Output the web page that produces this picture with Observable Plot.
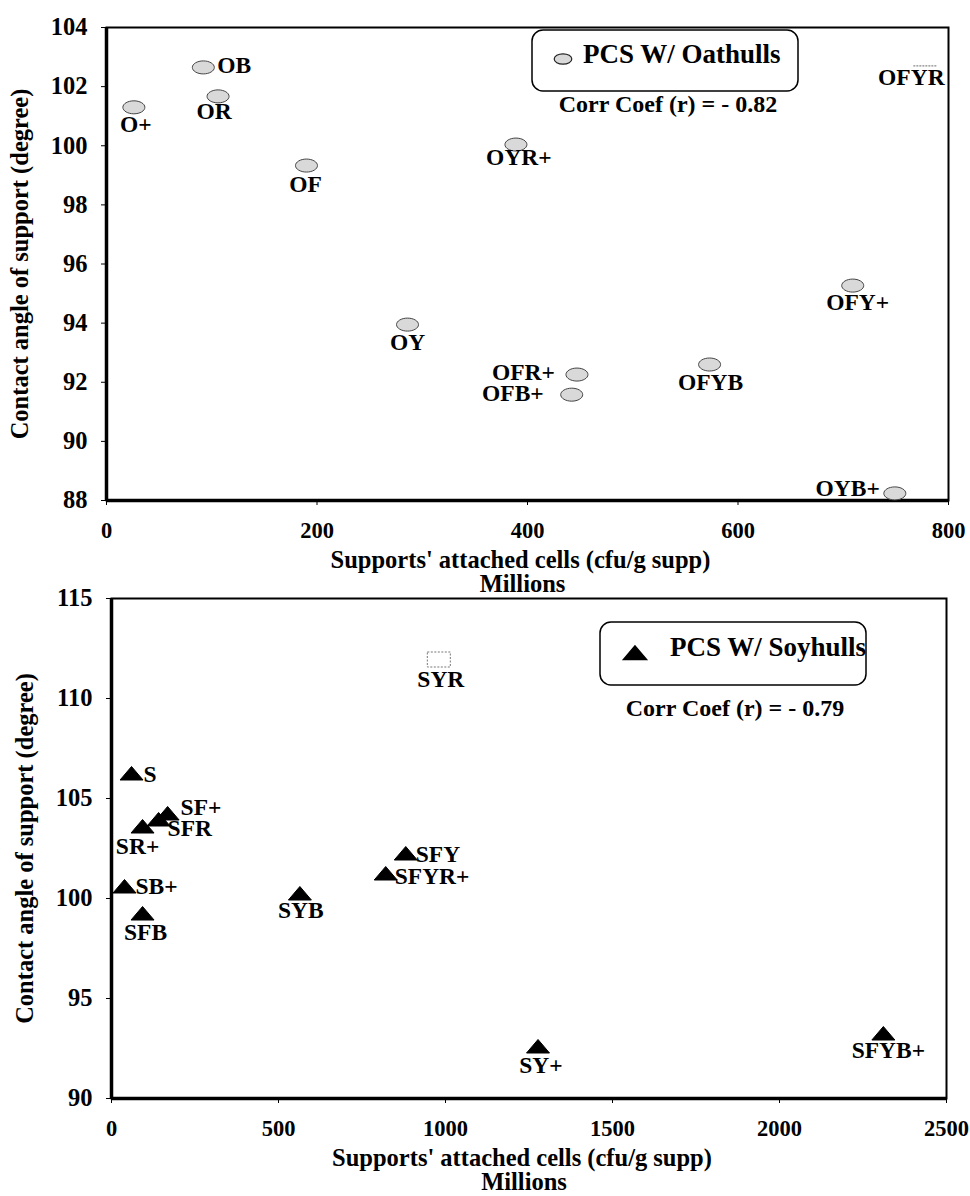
<!DOCTYPE html>
<html><head><meta charset="utf-8">
<script src="https://cdn.jsdelivr.net/npm/d3@7"></script>
<script src="https://cdn.jsdelivr.net/npm/@observablehq/plot@0.6"></script>
<style>
body{margin:0;background:#fff;}
#c svg{display:block;}
</style></head><body><div id="c"></div>
<script>
// ---- data: PCS with oathulls ----
const oatNames = ["O+","OB","OR","OF","OYR+","OFYR","OY","OFR+","OFB+","OFYB","OFY+","OYB+"];
const oatCells = [26,92,106,190,389,778,286,447,442,573,709,749];
const oatAngle = [101.3,102.65,101.67,99.33,100.04,102.7,93.95,92.26,91.58,92.6,95.27,88.24];
const oatXTicks = [0,200,400,600,800];
const oatYTicks = [88,90,92,94,96,98,100,102,104];
const oatCorr = "Corr Coef (r) = - 0.82";
const oatLegend = "PCS W/ Oathulls";

// ---- data: PCS with soyhulls ----
const soyNames = ["S","SR+","SFR","SF+","SFY","SFYR+","SB+","SFB","SYB","SY+","SFYB+","SYR"];
const soyCells = [60,93,141,168,881,821,39,93,564,1277,2311,980];
const soyAngle = [106.25,103.6,103.95,104.25,102.25,101.25,100.6,99.25,100.25,92.6,93.25,111.95];
const soyXTicks = [0,500,1000,1500,2000,2500];
const soyYTicks = [90,95,100,105,110,115];
const soyCorr = "Corr Coef (r) = - 0.79";
const soyLegend = "PCS W/ Soyhulls";

const xTitle = "Supports' attached cells (cfu/g supp)";
const xUnit = "Millions";
const yTitle = "Contact angle of support (degree)";

// ---- label placement (dx, dy, anchor) ----
const oatLabelPos = {
  "O+":[2,17.5,"middle"], "OB":[14,-2,"start"], "OR":[-4,15,"middle"], "OF":[-1,19,"middle"],
  "OYR+":[3,13,"middle"], "OFYR":[-14,12,"middle"], "OY":[0,18,"middle"], "OFR+":[-22,-2,"end"],
  "OFB+":[-28,-1,"end"], "OFYB":[1,18,"middle"], "OFY+":[5,17,"middle"], "OYB+":[-15,-5,"end"]
};
const soyLabelPos = {
  "S":[12,1,"start"], "SR+":[-5,20,"middle"], "SFR":[9,9,"start"], "SF+":[13,-6,"start"],
  "SFY":[10,1,"start"], "SFYR+":[9,3,"start"], "SB+":[11,0,"start"], "SFB":[3,19,"middle"],
  "SYB":[1,17,"middle"], "SY+":[3,19,"middle"], "SFYB+":[5,17,"middle"], "SYR":[2,20,"middle"]
};

const FONT = "'Liberation Serif','Times New Roman',Times,serif";

// ---- custom symbols ----
const ellipseSym = {draw(ctx){const rx=11,ry=6.5,k=0.5523;
  ctx.moveTo(rx,0); ctx.bezierCurveTo(rx,ry*k,rx*k,ry,0,ry); ctx.bezierCurveTo(-rx*k,ry,-rx,ry*k,-rx,0);
  ctx.bezierCurveTo(-rx,-ry*k,-rx*k,-ry,0,-ry); ctx.bezierCurveTo(rx*k,-ry,rx,-ry*k,rx,0); ctx.closePath();}};
const triSym = {draw(ctx){ctx.moveTo(0,-7); ctx.lineTo(11.5,6.5); ctx.lineTo(-11.5,6.5); ctx.closePath();}};
const boxSym = {draw(ctx){ctx.rect(-11.5,-7.5,23,15);}};
const dashSym = {draw(ctx){ctx.moveTo(-12,0); ctx.lineTo(12,0);}};

const oat = oatNames.map((n,i)=>({name:n, x:oatCells[i], y:oatAngle[i]}));
const soy = soyNames.map((n,i)=>({name:n, x:soyCells[i], y:soyAngle[i]}));

function labels(data, pos){
  return data.map(d => {
    const [dx,dy,anchor] = pos[d.name];
    return Plot.text([d], {x:"x", y:"y", text:"name", dx, dy, textAnchor:anchor, lineAnchor:"middle",
      fontSize:23.5, fontWeight:"bold", fill:"black"});
  });
}

function axes(xTicks, yTicks){
  return [
    Plot.axisX({ticks:xTicks, tickSize:5, tickPadding:17, fontSize:22.5, label:null, tickFormat:d=>String(d)}),
    Plot.axisY({ticks:yTicks, tickSize:5, tickPadding:14, fontSize:24.5, tickFormat:d=>String(d),
      label:yTitle, labelAnchor:"center", labelOffset:96, labelArrow:"none"}),
    Plot.frame({stroke:"black", strokeWidth:2}),
    Plot.ruleX([xTicks[0]], {stroke:"black", strokeWidth:3.5}),
    Plot.ruleY([yTicks[0]], {stroke:"black", strokeWidth:3.5}),
    Plot.text([xTitle], {frameAnchor:"bottom", dx:-7, dy:60, lineAnchor:"middle", fontSize:24.5, fontWeight:"bold"}),
    Plot.text([xUnit], {frameAnchor:"bottom", dx:-5, dy:84, lineAnchor:"middle", fontSize:24.5, fontWeight:"bold"})
  ];
}

const plotStyle = {fontFamily:FONT, fontWeight:"bold", color:"black", background:"white", overflow:"visible"};

const topChart = Plot.plot({
  width:970, height:596, marginLeft:106, marginRight:22, marginTop:27, marginBottom:96,
  style:plotStyle,
  x:{domain:[oatXTicks[0], oatXTicks[oatXTicks.length-1]]},
  y:{domain:[oatYTicks[0], oatYTicks[oatYTicks.length-1]]},
  marks:[
    ...axes(oatXTicks, oatYTicks),
    Plot.dot(oat.filter(d=>d.name!=="OFYR"), {x:"x", y:"y", symbol:ellipseSym, fill:"#d9d9d9", stroke:"#444", strokeWidth:1}),
    Plot.dot(oat.filter(d=>d.name==="OFYR"), {x:"x", y:"y", symbol:dashSym, fill:"none", stroke:"#888", strokeWidth:1.2, strokeDasharray:"2,1"}),
    ...labels(oat, oatLabelPos)
  ]
});

const bottomChart = Plot.plot({
  width:970, height:600, marginLeft:111, marginRight:24, marginTop:2, marginBottom:98,
  style:plotStyle,
  x:{domain:[soyXTicks[0], soyXTicks[soyXTicks.length-1]]},
  y:{domain:[soyYTicks[0], soyYTicks[soyYTicks.length-1]]},
  marks:[
    ...axes(soyXTicks, soyYTicks),
    Plot.dot(soy.filter(d=>d.name!=="SYR"), {x:"x", y:"y", symbol:triSym, fill:"black", stroke:"black", strokeWidth:1}),
    Plot.dot(soy.filter(d=>d.name==="SYR"), {x:"x", y:"y", symbol:boxSym, fill:"white", stroke:"#777", strokeWidth:1, strokeDasharray:"2,1.5"}),
    ...labels(soy, soyLabelPos)
  ]
});

// ---- legends (boxes with icon, name and correlation) ----
function legend(svg, box, icon, name, corr){
  const g = d3.select(svg).append("g").attr("font-family", FONT).attr("font-weight","bold");
  g.append("rect").attr("x",box.x).attr("y",box.y).attr("width",box.w).attr("height",box.h)
    .attr("rx",11).attr("fill","white").attr("stroke","black").attr("stroke-width",1.5);
  const p = d3.path(); icon.sym.draw(p);
  g.append("path").attr("d", p.toString()).attr("transform",`translate(${icon.x},${icon.y}) scale(${icon.s})`)
    .attr("fill",icon.fill).attr("stroke",icon.stroke).attr("stroke-width",1.5);
  g.append("text").attr("x",box.tx).attr("y",box.ty).attr("font-size",27).attr("text-anchor","start").attr("fill","black").text(name);
  g.append("text").attr("x",box.cx).attr("y",box.cy).attr("font-size",24).attr("text-anchor","middle").attr("fill","black").text(corr);
}
legend(topChart, {x:532,y:30,w:266,h:61,tx:583,ty:63,cx:668,cy:112}, {sym:ellipseSym,x:563,y:59,s:0.8,fill:"#d9d9d9",stroke:"#222"}, oatLegend, oatCorr);
legend(bottomChart, {x:600,y:26,w:266,h:63,tx:670,ty:60,cx:735,cy:120}, {sym:triSym,x:635,y:57,s:1,fill:"black",stroke:"black"}, soyLegend, soyCorr);

document.getElementById("c").append(topChart, bottomChart);
</script>
</body></html>
